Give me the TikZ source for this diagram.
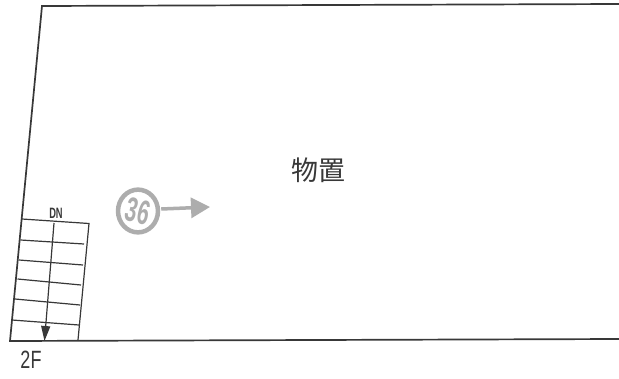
\documentclass[tikz,border=0pt]{standalone}
\usepackage{fontspec}
\setmainfont{Liberation Sans}
\newfontfamily\cjk{Noto Sans CJK JP}
\usetikzlibrary{arrows.meta}
\definecolor{wallc}{gray}{0.22}
\definecolor{stampc}{gray}{0.68}
\tikzset{
  wall/.style={draw=wallc,line width=1.7pt},
  tread/.style={draw=wallc,line width=1.2pt},
  stamp/.style={circle,draw=stampc,line width=4.5pt,minimum size=38pt,inner sep=0pt,text=stampc},
  stamparrow/.style={draw=stampc,line width=3.5pt,-{Triangle[length=19pt,width=20pt]}}
}
\begin{document}
\begin{tikzpicture}[x=1pt,y=-1pt]
\useasboundingbox (0,0) rectangle (619,378);
\fill[white] (0,0) rectangle (619,378);
% outline
\draw[wall] (619,4) -- (42,6) -- (10,341) -- (619,339);
% stairs
\draw[tread] (22,219) -- (89,223.5) -- (78,340);
\draw[tread] (20.5,240) -- (84,244);
\draw[tread] (19,260) -- (83,265);
\draw[tread] (17.5,279) -- (81,285);
\draw[tread] (15,299) -- (80,305);
\draw[tread] (12,320) -- (79,325);
\coordinate (stairtop) at (54,223);
\coordinate (stairbottom) at (44.5,341);
\draw[tread,-{Triangle[length=15pt,width=9pt]}] (stairtop) -- (stairbottom);
\node[font=\bfseries\fontsize{15}{15}\selectfont,xscale=0.62,text=wallc,inner sep=0pt] (dn) at (56,213.5) {DN};
\node[font=\fontsize{25}{25}\selectfont,xscale=0.72,text=wallc,inner sep=0pt] (floor) at (31,360) {2F};
% label
\node[font=\cjk\fontsize{27}{27}\selectfont,text=wallc,inner sep=0pt] (room) at (318,170) {物置};
% stamp
\node[stamp,yscale=1.07,font=\bfseries\fontsize{32}{32}\selectfont] (mark) at (138,211) {\rotatebox{-15}{\scalebox{0.66}[1]{36}}};
\coordinate (markend) at (210,207);
\draw[stamparrow] (mark.east) ++(1,-2) -- (markend);
\end{tikzpicture}
\end{document}
